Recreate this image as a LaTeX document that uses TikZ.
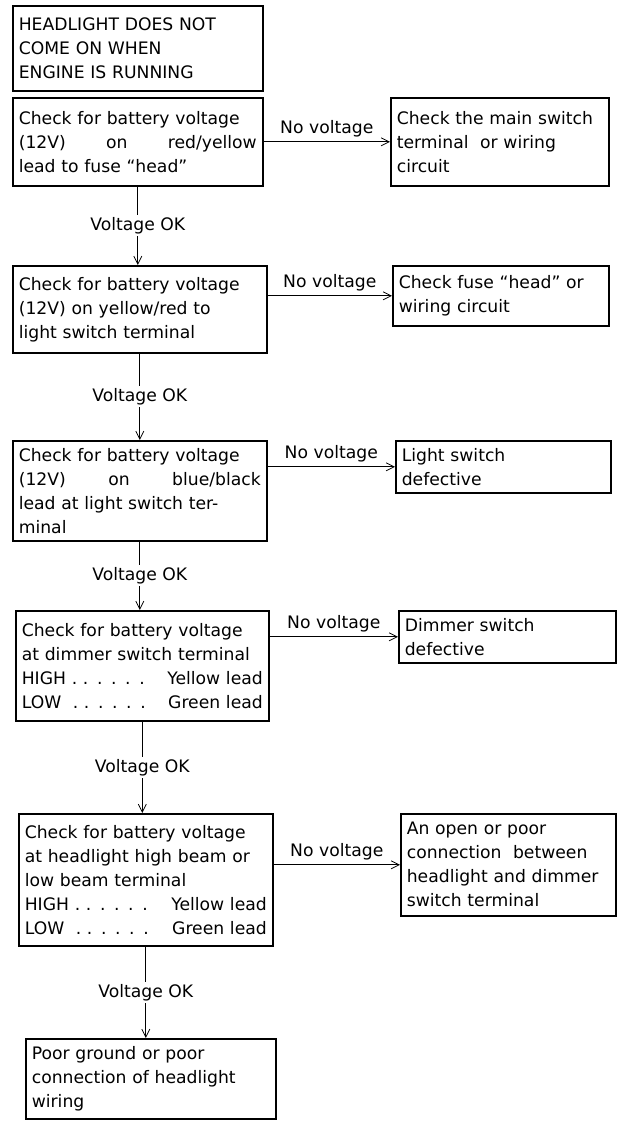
\documentclass[tikz,border=0pt]{standalone}
\usepackage{fontspec}
\setmainfont{DejaVu Sans}
\usetikzlibrary{arrows.meta}
\begin{document}
\begin{tikzpicture}[x=0.5pt,y=-0.5pt,>={Straight Barb[length=4pt,width=4pt]},
	font=\fontsize{8.6}{12}\selectfont]
	\tikzstyle{box}=[draw=black,thick,anchor=north west,inner sep=3pt,align=left]
	\tikzstyle{lab}=[fill=white,inner sep=1pt]
	\tikzstyle{nolab}=[above,inner sep=2pt]
	\useasboundingbox (0,0) rectangle (623,1125);
	% left column
	\node[box,text width=119pt,minimum height=42.5pt] (title) at (12,5) {HEADLIGHT DOES NOT\\COME ON WHEN\\ENGINE IS RUNNING};
	\node[box,text width=119pt,minimum height=44pt] (b1) at (12,97) {Check for battery voltage\\(12V) \hfill on \hfill red/yellow\\lead to fuse ``head''};
	\node[box,text width=121pt,minimum height=43.5pt] (b2) at (12,265) {Check for battery voltage\\(12V) on yellow/red to\\light switch terminal};
	\node[box,text width=121pt,minimum height=50pt] (b3) at (12,440) {Check for battery voltage\\(12V) \hfill on \hfill blue/black\\lead at light switch ter-\\minal};
	\node[box,text width=120.5pt,minimum height=55pt] (b4) at (15,610) {Check for battery voltage\\at dimmer switch terminal\\HIGH . . . . . . \hfill Yellow lead\\LOW \ . . . . . . \hfill Green lead};
	\node[box,text width=121pt,minimum height=66pt] (b5) at (18,813) {Check for battery voltage\\at headlight high beam or\\low beam terminal\\HIGH . . . . . . \hfill Yellow lead\\LOW \ . . . . . . \hfill Green lead};
	\node[box,text width=119pt,minimum height=40pt] (b6) at (25,1038) {Poor ground or poor\\connection of headlight\\wiring};
	% right column
	\node[box,text width=103pt,minimum height=44pt] (r1) at (390,97) {Check the main switch\\terminal \ or wiring\\circuit};
	\node[box,text width=102pt,minimum height=30pt] (r2) at (392,265) {Check fuse ``head'' or\\wiring circuit};
	\node[box,text width=101.5pt,minimum height=26pt] (r3) at (395,440) {Light switch\\defective};
	\node[box,text width=102.5pt,minimum height=26pt] (r4) at (398,610) {Dimmer switch\\defective};
	\node[box,text width=101.5pt,minimum height=51pt] (r5) at (400,813) {An open or poor\\connection \ between\\headlight and dimmer\\switch terminal};
	% voltage OK
	\draw[->] (b1) -- (b1 |- b2.north) node[lab,midway] {Voltage OK};
	\draw[->] (b2) -- (b2 |- b3.north) node[lab,midway] {Voltage OK};
	\draw[->] (b3) -- (b3 |- b4.north) node[lab,midway] {Voltage OK};
	\draw[->] (b4) -- (b4 |- b5.north) node[lab,midway] {Voltage OK};
	\draw[->] (b5) -- (b5 |- b6.north) node[lab,midway] {Voltage OK};
	% no voltage
	\foreach \i in {1,...,5}
		\draw[->] (r\i.west -| b\i.east) -- (r\i.west) node[nolab,midway] {No voltage};
\end{tikzpicture}
\end{document}
